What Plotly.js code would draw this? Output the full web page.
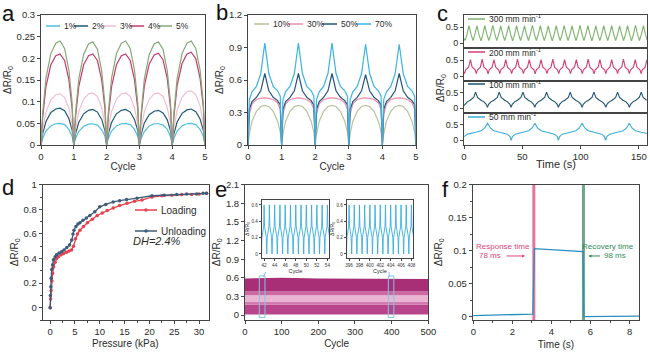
<!DOCTYPE html>
<html><head><meta charset="utf-8">
<script src="https://cdn.plot.ly/plotly-3.0.1.min.js"></script>
<style>html,body{margin:0;padding:0;background:#fff;}#chart{width:650px;height:356px;}</style>
</head><body><div id="chart"></div>
<script>
// ---------------- DATA ----------------
// Panel a: strain 1%..5%
const aNames = ['1%','2%','3%','4%','5%'];
const aX = [0,0.05,0.15,0.3,0.45,0.58,0.72,0.85,0.95,
 1,1.05,1.15,1.3,1.45,1.58,1.72,1.85,1.95,
 2,2.05,2.15,2.3,2.45,2.58,2.72,2.85,2.95,
 3,3.05,3.15,3.3,3.45,3.58,3.72,3.85,3.95,
 4,4.05,4.15,4.3,4.45,4.58,4.72,4.85,4.95, 5];
const a1 = [0,0.015,0.032,0.044,0.049,0.050,0.047,0.036,0.020,
 0,0.015,0.031,0.043,0.048,0.049,0.046,0.035,0.020,
 0,0.015,0.032,0.044,0.049,0.050,0.047,0.036,0.020,
 0,0.015,0.031,0.044,0.049,0.049,0.046,0.036,0.020,
 0,0.015,0.032,0.044,0.049,0.050,0.047,0.036,0.020, 0];
const a2 = [0,0.026,0.054,0.075,0.083,0.085,0.079,0.061,0.034,
 0,0.025,0.052,0.072,0.080,0.082,0.076,0.059,0.033,
 0,0.025,0.052,0.072,0.080,0.082,0.076,0.059,0.033,
 0,0.024,0.051,0.070,0.078,0.080,0.074,0.058,0.032,
 0,0.025,0.053,0.073,0.081,0.083,0.077,0.060,0.033, 0];
const a3 = [0,0.035,0.076,0.104,0.116,0.118,0.110,0.085,0.047,
 0,0.036,0.077,0.106,0.118,0.120,0.112,0.086,0.048,
 0,0.036,0.077,0.106,0.118,0.120,0.112,0.086,0.048,
 0,0.036,0.077,0.106,0.118,0.120,0.112,0.086,0.048,
 0,0.038,0.080,0.110,0.123,0.125,0.116,0.090,0.050, 0];
const a4 = [0,0.063,0.134,0.185,0.206,0.210,0.195,0.151,0.084,
 0,0.063,0.134,0.185,0.206,0.210,0.195,0.151,0.084,
 0,0.063,0.134,0.185,0.206,0.210,0.195,0.151,0.084,
 0,0.064,0.136,0.187,0.208,0.212,0.197,0.153,0.085,
 0,0.064,0.137,0.188,0.210,0.214,0.199,0.154,0.086, 0];
const a5 = [0,0.072,0.154,0.211,0.235,0.240,0.223,0.173,0.096,
 0,0.071,0.152,0.209,0.233,0.238,0.221,0.171,0.095,
 0,0.072,0.154,0.211,0.235,0.240,0.223,0.173,0.096,
 0,0.071,0.152,0.209,0.233,0.238,0.221,0.171,0.095,
 0,0.072,0.154,0.211,0.235,0.240,0.223,0.173,0.096, 0];

// Panel b: strain 10%..70%
const bNames = ['10%','30%','50%','70%'];
const bX = [0,0.04,0.12,0.25,0.38,0.5,0.62,0.75,0.88,0.96,
 1,1.04,1.12,1.25,1.38,1.5,1.62,1.75,1.88,1.96,
 2,2.04,2.12,2.25,2.38,2.5,2.62,2.75,2.88,2.96,
 3,3.04,3.12,3.25,3.38,3.5,3.62,3.75,3.88,3.96,
 4,4.04,4.12,4.25,4.38,4.5,4.62,4.75,4.88,4.96, 5];
const b10 = [0,0.10,0.22,0.31,0.355,0.365,0.355,0.31,0.22,0.12,
 0,0.10,0.22,0.31,0.355,0.365,0.355,0.31,0.22,0.12,
 0,0.10,0.22,0.31,0.355,0.366,0.355,0.31,0.22,0.12,
 0,0.10,0.22,0.31,0.355,0.365,0.355,0.31,0.22,0.12,
 0,0.10,0.22,0.31,0.355,0.365,0.355,0.31,0.22,0.12, 0];
const b30 = [0,0.28,0.38,0.42,0.43,0.435,0.43,0.42,0.39,0.33,
 0,0.28,0.38,0.42,0.43,0.435,0.43,0.42,0.39,0.33,
 0,0.28,0.38,0.42,0.43,0.435,0.43,0.42,0.39,0.33,
 0,0.28,0.38,0.42,0.43,0.435,0.43,0.42,0.39,0.33,
 0,0.28,0.38,0.42,0.43,0.435,0.43,0.42,0.39,0.33, 0];
const b50 = [0,0.33,0.40,0.44,0.50,0.66,0.50,0.44,0.41,0.37,
 0,0.33,0.40,0.44,0.50,0.66,0.50,0.44,0.41,0.37,
 0,0.33,0.40,0.44,0.50,0.66,0.50,0.44,0.41,0.37,
 0,0.33,0.40,0.44,0.50,0.65,0.50,0.44,0.41,0.37,
 0,0.33,0.40,0.44,0.50,0.66,0.50,0.44,0.41,0.37, 0];
const b70 = [0,0.42,0.49,0.54,0.66,0.94,0.66,0.54,0.50,0.45,
 0,0.42,0.49,0.54,0.66,0.94,0.66,0.54,0.50,0.45,
 0,0.42,0.49,0.54,0.66,0.94,0.66,0.54,0.50,0.45,
 0,0.42,0.49,0.54,0.66,0.93,0.66,0.54,0.50,0.45,
 0,0.42,0.49,0.54,0.66,0.93,0.66,0.54,0.50,0.45, 0];

// Panel c: stretching speeds
const cNames = ['300 mm min<sup>-1</sup>','200 mm min<sup>-1</sup>','100 mm min<sup>-1</sup>','50 mm min<sup>-1</sup>'];
const c300T = [0,0.9,2.6,4.3,6.0,7.7,9.4,11.1,12.8,14.5,16.2,17.9,19.6,21.3,23.0,24.7,26.4,28.1,29.8,31.5,33.2,34.9,36.6,38.3,40.0,41.7,43.4,45.1,46.8,48.5,50.2,51.9,53.6,55.3,57.0,58.7,60.4,62.1,63.8,65.5,67.2,68.9,70.6,72.3,74.0,75.7,77.4,79.1,80.8,82.5,84.2,85.9,87.6,89.3,91.0,92.7,94.4,96.1,97.8,99.5,101.2,102.9,104.6,106.3,108.0,109.7,111.4,113.1,114.8,116.5,118.2,119.9,121.6,123.3,125.0,126.7,128.4,130.1,131.8,133.5,135.2,136.9,138.6,140.3,142.0,143.7,145.4,147.1,148.8,150.5,152.2,153.9,155.6,157.3];
const c300 = [0.15,
 0.08,0.28,0.55,0.28, 0.08,0.28,0.54,0.28, 0.07,0.28,0.55,0.28, 0.08,0.28,0.56,0.29, 0.08,0.28,0.54,0.28,
 0.08,0.28,0.55,0.28, 0.07,0.27,0.55,0.28, 0.08,0.28,0.54,0.28, 0.08,0.29,0.56,0.28, 0.08,0.28,0.55,0.28,
 0.08,0.28,0.54,0.28, 0.07,0.28,0.55,0.28, 0.08,0.28,0.55,0.29, 0.08,0.28,0.54,0.28, 0.08,0.28,0.56,0.28,
 0.08,0.28,0.55,0.28, 0.07,0.28,0.54,0.28, 0.08,0.28,0.55,0.28, 0.08,0.29,0.55,0.28, 0.08,0.28,0.54,0.28,
 0.08,0.28,0.55,0.28, 0.07,0.28,0.56,0.28, 0.08,0.28,0.55,0.28,
 0.08];
const c200T = [0,
 0.45,1.45,3.95,5.5,7.0,9.55,
 10.55,11.55,14.05,15.6,17.1,19.65,
 20.65,21.65,24.15,25.7,27.2,29.75,
 30.75,31.75,34.25,35.8,37.3,39.85,
 40.85,41.85,44.35,45.9,47.4,49.95,
 50.95,51.95,54.45,56.0,57.5,60.05,
 61.05,62.05,64.55,66.1,67.6,70.15,
 71.15,72.15,74.65,76.2,77.7,80.25,
 81.25,82.25,84.75,86.3,87.8,90.35,
 91.35,92.35,94.85,96.4,97.9,100.45,
 101.45,102.45,104.95,106.5,108.0,110.55,
 111.55,112.55,115.05,116.6,118.1,120.65,
 121.65,122.65,125.15,126.7,128.2,130.75,
 131.75,132.75,135.25,136.8,138.3,140.85,
 141.85,142.85,145.35,146.9,148.4,150.95,
 151.95,152.95,155.45,157.0];
const c200 = [0.13,
 0.08,0.20,0.28,0.52,0.28,0.20,
 0.08,0.20,0.28,0.53,0.28,0.20,
 0.07,0.20,0.28,0.52,0.28,0.20,
 0.08,0.21,0.28,0.52,0.28,0.20,
 0.08,0.20,0.28,0.53,0.28,0.20,
 0.08,0.20,0.28,0.52,0.28,0.20,
 0.07,0.20,0.28,0.52,0.28,0.21,
 0.08,0.20,0.28,0.53,0.28,0.20,
 0.08,0.20,0.28,0.52,0.28,0.20,
 0.08,0.20,0.29,0.52,0.28,0.20,
 0.08,0.20,0.28,0.53,0.28,0.20,
 0.07,0.20,0.28,0.52,0.28,0.20,
 0.08,0.20,0.28,0.52,0.28,0.20,
 0.08,0.21,0.28,0.53,0.28,0.20,
 0.08,0.20,0.28,0.52,0.28,0.20,
 0.08,0.20,0.28,0.52];
const c100T = [0,2.8,5.3,8.3,9.95,11.6,14.6,17.1,19.1,20.1,
 21.1,23.1,25.6,28.6,30.25,31.9,34.9,37.4,39.4,40.4,
 41.4,43.4,45.9,48.9,50.55,52.2,55.2,57.7,59.7,60.7,
 61.7,63.7,66.2,69.2,70.85,72.5,75.5,78.0,80.0,81.0,
 82.0,84.0,86.5,89.5,91.15,92.8,95.8,98.3,100.3,101.3,
 102.3,104.3,106.8,109.8,111.45,113.1,116.1,118.6,120.6,121.6,
 122.6,124.6,127.1,130.1,131.75,133.4,136.4,138.9,140.9,141.9,
 142.9,144.9,147.4,150.4,152.05,153.7,156.7];
const c100 = [0.09,0.21,0.26,0.35,0.52,0.35,0.26,0.21,0.13,0.03,
 0.13,0.21,0.26,0.35,0.52,0.35,0.26,0.21,0.13,0.03,
 0.13,0.21,0.26,0.35,0.52,0.35,0.26,0.21,0.13,0.03,
 0.13,0.21,0.26,0.35,0.52,0.35,0.26,0.21,0.13,0.03,
 0.13,0.21,0.26,0.35,0.52,0.35,0.26,0.21,0.13,0.03,
 0.13,0.21,0.26,0.35,0.52,0.35,0.26,0.21,0.13,0.03,
 0.13,0.21,0.26,0.35,0.52,0.35,0.26,0.21,0.13,0.03,
 0.13,0.21,0.26,0.35,0.52,0.35,0.26];
const c50T = [0,3.3,9.8,14.8,17.8,20.3,22.6,25.6,30.5,37.0,39.5,40.5,
 41.5,44.0,50.5,55.5,58.5,60.8,63.1,66.1,71.0,77.5,80.0,81.0,
 82.0,84.5,91.0,96.0,99.0,101.3,103.6,106.6,111.5,118.0,120.5,121.5,
 122.5,125.0,131.5,136.5,139.5,141.8,144.1,147.1,152.0,158.0];
const c50 = [0.12,0.20,0.26,0.31,0.40,0.55,0.40,0.31,0.26,0.20,0.12,0.0,
 0.12,0.20,0.26,0.31,0.40,0.55,0.40,0.31,0.26,0.20,0.12,0.0,
 0.12,0.20,0.26,0.31,0.40,0.55,0.40,0.31,0.26,0.20,0.12,0.0,
 0.12,0.20,0.26,0.31,0.40,0.55,0.40,0.31,0.26,0.21];

// Panel d: loading / unloading pressure
const dNames = ['Loading','Unloading'];
const dLoadX = [0,0.1,0.2,0.35,0.5,0.7,1.0,1.3,1.7,2.2,2.7,3.3,3.8,4.3,4.7,5.1,5.5,6.0,6.7,7.5,8.5,9.5,10.5,11.5,12.7,14.0,15.5,17.0,18.5,20.5,22.5,24.5,26.5,28.5,30.0,31.5];
const dLoadY = [0,0.07,0.14,0.22,0.28,0.33,0.37,0.40,0.415,0.43,0.44,0.45,0.46,0.47,0.50,0.56,0.60,0.63,0.66,0.69,0.72,0.75,0.77,0.79,0.81,0.83,0.85,0.865,0.875,0.90,0.91,0.915,0.92,0.92,0.925,0.93];
const dUnX = [0,0.05,0.13,0.2,0.33,0.5,0.67,1.0,1.3,1.8,2.3,2.8,3.35,3.9,4.35,4.6,4.8,5.2,5.6,6.0,6.6,7.3,8.0,9.0,10.0,11.2,12.7,14.0,15.4,17.5,20.5,23.0,25.5,27.5,29.5,30.8,31.5];
const dUnY = [0,0.10,0.17,0.24,0.31,0.35,0.39,0.415,0.43,0.445,0.455,0.47,0.49,0.51,0.55,0.60,0.63,0.66,0.68,0.69,0.71,0.73,0.75,0.78,0.82,0.84,0.86,0.87,0.88,0.89,0.91,0.915,0.92,0.925,0.925,0.93,0.93];
const dDH = 'DH=2.4%';

// Panel e: 500-cycle band (envelope levels of the dense oscillation)
const eX = [0,100,200,300,400,500];
const eBottom = [0.01,0.01,0.01,0.01,0.01,0.01];
const eLow = [0.17,0.17,0.17,0.17,0.17,0.17];
const eMidLow = [0.22,0.22,0.22,0.22,0.22,0.22];
const eMidHigh = [0.32,0.32,0.32,0.32,0.32,0.32];
const eHigh = [0.38,0.38,0.38,0.38,0.38,0.38];
const eTop = [0.59,0.60,0.59,0.59,0.58,0.58];
const eBoxes = [[39,54.5],[391,406]];
// Insets
const i1X = [41.5,41.58,41.92,42,42.08,42.42, 42.5,42.58,42.92,43,43.08,43.42,
 43.5,43.58,43.92,44,44.08,44.42, 44.5,44.58,44.92,45,45.08,45.42,
 45.5,45.58,45.92,46,46.08,46.42, 46.5,46.58,46.92,47,47.08,47.42,
 47.5,47.58,47.92,48,48.08,48.42, 48.5,48.58,48.92,49,49.08,49.42,
 49.5,49.58,49.92,50,50.08,50.42, 50.5,50.58,50.92,51,51.08,51.42,
 51.5,51.58,51.92,52,52.08,52.42, 52.5,52.58,52.92,53,53.08,53.42,
 53.5,53.58,53.92,54,54.08,54.42, 54.5];
const i2X = [395.5,395.58,395.92,396,396.08,396.42, 396.5,396.58,396.92,397,397.08,397.42,
 397.5,397.58,397.92,398,398.08,398.42, 398.5,398.58,398.92,399,399.08,399.42,
 399.5,399.58,399.92,400,400.08,400.42, 400.5,400.58,400.92,401,401.08,401.42,
 401.5,401.58,401.92,402,402.08,402.42, 402.5,402.58,402.92,403,403.08,403.42,
 403.5,403.58,403.92,404,404.08,404.42, 404.5,404.58,404.92,405,405.08,405.42,
 405.5,405.58,405.92,406,406.08,406.42, 406.5,406.58,406.92,407,407.08,407.42,
 407.5,407.58,407.92,408,408.08,408.42, 408.5];
const iY = [0,0.2,0.34,0.6,0.34,0.2, 0,0.2,0.34,0.6,0.34,0.2,
 0,0.2,0.34,0.6,0.34,0.2, 0,0.2,0.34,0.6,0.34,0.2,
 0,0.2,0.34,0.6,0.34,0.2, 0,0.2,0.34,0.6,0.34,0.2,
 0,0.2,0.34,0.6,0.34,0.2, 0,0.2,0.34,0.6,0.34,0.2,
 0,0.2,0.34,0.6,0.34,0.2, 0,0.2,0.34,0.6,0.34,0.2,
 0,0.2,0.34,0.6,0.34,0.2, 0,0.2,0.34,0.6,0.34,0.2,
 0,0.2,0.34,0.6,0.34,0.2, 0];

// Panel f: response / recovery
const fT = [0,1,2,3.05,3.13,4,5,5.62,5.66,6.5,7.5,8.5];
const fY = [0.0015,0.002,0.003,0.004,0.103,0.1015,0.100,0.0985,0.0,0.0005,0.001,0.001];
const fRespT = 3.1, fRecT = 5.64;
const fRespMs = 78, fRecMs = 98;

// ---------------- STYLE / LAYOUT ----------------
const FF = 'Liberation Sans, Arial, Helvetica, sans-serif';
const TXT = '#2a2a2a';
const W = 650, H = 356;
const px = x => x / W, py = y => 1 - y / H;
const aCol = ['#4dbfe0','#1d5a78','#f4bfd0','#c73a6e','#86a878'];
const bCol = ['#b8c39e','#f08fa8','#24557a','#3cb4e6'];
const cCol = ['#7cb26a','#d23f78','#1f5470','#3aaed8'];
const dCol = ['#e8414f','#3c5c7a'];
const RT = 'ΔR/R<sub>0</sub>';

const traces = [];
function ln(x, y, color, xa, ya, w, extra) {
  traces.push(Object.assign({type:'scatter', mode:'lines', x, y, xaxis:xa, yaxis:ya,
    line:{color, width:w||1.2}, showlegend:false, hoverinfo:'skip'}, extra||{}));
}
// a
[a1,a2,a3,a4,a5].forEach((s,i)=>ln(aX, s, aCol[i], 'x', 'y', 1.2));
// b
[b10,b30,b50,b70].forEach((s,i)=>ln(bX, s, bCol[i], 'x2', 'y2', 1.2));
// c
ln(c300T, c300, cCol[0], 'x3', 'y3', 1.1);
ln(c200T, c200, cCol[1], 'x4', 'y4', 1.1);
ln(c100T, c100, cCol[2], 'x5', 'y5', 1.1);
ln(c50T, c50, cCol[3], 'x6', 'y6', 1.1);
// d
ln(dLoadX, dLoadY, dCol[0], 'x7', 'y7', 1.3, {mode:'lines+markers', marker:{color:dCol[0], size:3.5}});
ln(dUnX, dUnY, dCol[1], 'x7', 'y7', 1.3, {mode:'lines+markers', marker:{color:dCol[1], size:3.5}});
// e band
const eLevels = [eBottom, eLow, eMidLow, eMidHigh, eHigh, eTop];
const eFill = [null, '#b8458c', '#d27aae', '#eab5d3', '#cc68a2', '#a82f76'];
eLevels.forEach((lv,i)=>{
  traces.push({type:'scatter', mode:'lines', x:eX, y:lv, xaxis:'x8', yaxis:'y8', line:{width:0, color:'rgba(0,0,0,0)'},
    fill: i===0 ? 'none' : 'tonexty', fillcolor: eFill[i] || undefined, showlegend:false, hoverinfo:'skip'});
});
// insets
ln(i1X, iY, '#35aee0', 'x10', 'y10', 0.9);
ln(i2X, iY, '#35aee0', 'x11', 'y11', 0.9);
// f
ln([fRespT,fRespT], [-0.005,0.2], '#e6739f', 'x9', 'y9', 3);
ln([fRecT,fRecT], [-0.005,0.2], '#6aa88a', 'x9', 'y9', 3);
ln(fT, fY, '#2b8fc0', 'x9', 'y9', 1.3);

function axis(dom, range, extra) {
  return Object.assign({domain:dom, range:range, showline:true, mirror:true, linecolor:'#444', linewidth:1,
    ticks:'outside', ticklen:3, tickwidth:1, tickcolor:'#444',
    tickfont:{family:FF, size:9.5, color:TXT}, showgrid:false, zeroline:false, fixedrange:true}, extra||{});
}
const ttl = (t, s, st) => ({text:t, font:{family:FF, size:s||10, color:TXT}, standoff: st});
const cTick = {family:FF, size:9, color:TXT};
const iTick = {family:FF, size:4.6, color:'#333'};

const rowTop = [py(145), py(15)], rowBot = [py(320), py(184.7)];
const layout = {
  width:W, height:H, margin:{l:0,r:0,t:0,b:0,pad:0}, paper_bgcolor:'#fff', plot_bgcolor:'rgba(0,0,0,0)',
  font:{family:FF, color:TXT}, showlegend:false,
  // a
  xaxis: axis([px(41),px(205)], [0,5], {anchor:'y', dtick:1, title:ttl('Cycle',10,1)}),
  yaxis: axis(rowTop, [0,0.3], {anchor:'x', dtick:0.05, title:ttl(RT,10,3)}),
  // b
  xaxis2: axis([px(248),px(416)], [0,5], {anchor:'y2', dtick:1, title:ttl('Cycle',10,1)}),
  yaxis2: axis(rowTop, [0,1.2], {anchor:'x2', dtick:0.3, title:ttl(RT,10,3)}),
  // c
  xaxis3: axis([px(464),px(647)], [0,157], {anchor:'y3', showticklabels:false, ticks:''}),
  yaxis3: axis([py(48),py(15)], [-0.15,0.88], {anchor:'x3', tickvals:[0,0.5], tickfont:cTick}),
  xaxis4: axis([px(464),px(647)], [0,157], {anchor:'y4', showticklabels:false, ticks:''}),
  yaxis4: axis([py(81),py(48)], [-0.15,0.88], {anchor:'x4', tickvals:[0,0.5], tickfont:cTick}),
  xaxis5: axis([px(464),px(647)], [0,157], {anchor:'y5', showticklabels:false, ticks:''}),
  yaxis5: axis([py(113),py(81)], [-0.15,0.88], {anchor:'x5', tickvals:[0,0.5], tickfont:cTick}),
  xaxis6: axis([px(464),px(647)], [0,157], {anchor:'y6', dtick:50}),
  yaxis6: axis([py(145),py(113)], [-0.15,0.88], {anchor:'x6', tickvals:[0,0.5], tickfont:cTick}),
  // d
  xaxis7: axis([px(42.7),px(209)], [-1.5,32], {anchor:'y7', dtick:5,
    minor:{ticks:'outside', ticklen:2, dtick:2.5, tickcolor:'#444'}}),
  yaxis7: axis(rowBot, [-0.1,1], {anchor:'x7', dtick:0.2, title:ttl(RT,10,3),
    minor:{ticks:'outside', ticklen:2, dtick:0.1, tickcolor:'#444'}}),
  // e
  xaxis8: axis([px(245),px(428.3)], [0,500], {anchor:'y8', dtick:100, title:ttl('Cycle',10,3)}),
  yaxis8: axis(rowBot, [-0.08,2.1], {anchor:'x8', dtick:0.3, title:ttl(RT,10,3)}),
  // f
  xaxis9: axis([px(472.7),px(639.3)], [-0.03,8.5], {anchor:'y9', dtick:2, title:ttl('Time (s)',10,4),
    minor:{ticks:'outside', ticklen:2, dtick:1, tickcolor:'#444'}}),
  yaxis9: axis(rowBot, [-0.005,0.2], {anchor:'x9', dtick:0.05, title:ttl(RT,10,3),
    minor:{ticks:'outside', ticklen:2, dtick:0.025, tickcolor:'#444'}}),
  // insets
  xaxis10: axis([px(262),px(329)], [41.6,54.3], {anchor:'y10', dtick:2, ticklen:2, linewidth:1.2, tickangle:0,
    tickfont:iTick, title:ttl('Cycle',5.5,2)}),
  yaxis10: axis([py(258),py(200)], [-0.05,0.66], {anchor:'x10', tickvals:[0,0.2,0.4,0.6], ticklen:2, linewidth:1.2,
    tickfont:iTick, title:ttl(RT,5,1)}),
  xaxis11: axis([px(347),px(413)], [395.6,408.3], {anchor:'y11', dtick:2, ticklen:2, linewidth:1.2, tickangle:0,
    tickfont:iTick, title:ttl('Cycle',5.5,2)}),
  yaxis11: axis([py(258),py(200)], [-0.05,0.66], {anchor:'x11', tickvals:[0,0.2,0.4,0.6], ticklen:2, linewidth:1.2,
    tickfont:iTick, title:ttl(RT,5,1)}),
  shapes: [], annotations: []
};

function txt(x, y, text, size, extra) {
  layout.annotations.push(Object.assign({xref:'paper', yref:'paper', x:px(x), y:py(y), text, showarrow:false,
    xanchor:'center', yanchor:'middle', font:{family:FF, size:size, color:TXT}}, extra||{}));
}
// custom legends a, b, c
function legItem(x0, len, y, color, text, size) {
  layout.shapes.push({type:'line', xref:'paper', yref:'paper', x0:px(x0), x1:px(x0+len), y0:py(y), y1:py(y), line:{color, width:1.5}});
  txt(x0+len+2, y, text, size||8.5, {xanchor:'left', yanchor:'middle'});
}
[46,74,102,130,158].forEach((x,i)=>legItem(x, 14, 26, aCol[i], aNames[i]));
[254,288,322,356].forEach((x,i)=>legItem(x, 15, 24, bCol[i], bNames[i]));
[19,52,84,117].forEach((y,i)=>legItem(468, 17, y, cCol[i], cNames[i], 8.5));
// d legend (line + marker)
[210,231].forEach((y,i)=>{
  legItem(135, 22, y, dCol[i], dNames[i], 10);
  layout.shapes.push({type:'circle', xref:'paper', yref:'paper', x0:px(144.3), x1:px(147.7), y0:py(y+1.7), y1:py(y-1.7),
    fillcolor:dCol[i], line:{color:dCol[i], width:0}});
});

// axis titles placed as text
txt(556, 164, 'Time (s)', 11);
txt(126, 343, 'Pressure (kPa)', 10);
txt(441, 88, RT, 10, {textangle:-90});
// panel letters
[['a',8,13.5],['b',222,12.5],['c',442,13.5],['d',8,187.5],['e',221,189],['f',445,189]].forEach(p=>{
  txt(p[1], p[2], p[0], 22, {font:{family:FF, size:22, color:'#111'}});
});
// d: DH text
txt(157, 241, '<i>'+dDH+'</i>', 11);
// e: highlight boxes and connectors
eBoxes.forEach(b=>layout.shapes.push({type:'rect', xref:'x8', yref:'y8', x0:b[0], x1:b[1], y0:-0.04, y1:0.63,
  line:{color:'#7fc6ea', width:1}}));
layout.shapes.push({type:'line', xref:'paper', yref:'paper', x0:px(263.5), y0:py(277), x1:px(265.5), y1:py(272), line:{color:'#7fc6ea', width:1}});
layout.shapes.push({type:'line', xref:'paper', yref:'paper', x0:px(389.5), y0:py(277), x1:px(389), y1:py(272), line:{color:'#7fc6ea', width:1}});
// f: labels
const pink = '#e0457c', green = '#2e8b57';
const fa = (x,y,text,color,extra)=>layout.annotations.push(Object.assign({xref:'x9', yref:'y9', x, y, text, showarrow:false,
  xanchor:'center', yanchor:'middle', font:{family:FF,size:8,color}}, extra||{}));
fa(1.52, 0.107, 'Response time', pink);
fa(0.86, 0.092, fRespMs+' ms', pink);
fa(2.65, 0.092, '', pink, {ax:-20, ay:0, showarrow:true, arrowhead:2, arrowsize:0.6, arrowwidth:1, arrowcolor:pink});
fa(6.9, 0.107, 'Recovery time', green);
fa(7.26, 0.092, fRecMs+' ms', green);
fa(5.9, 0.092, '', green, {ax:13, ay:0, showarrow:true, arrowhead:2, arrowsize:0.6, arrowwidth:1, arrowcolor:green});

Plotly.newPlot('chart', traces, layout, {staticPlot:true, displayModeBar:false});
</script></body></html>
